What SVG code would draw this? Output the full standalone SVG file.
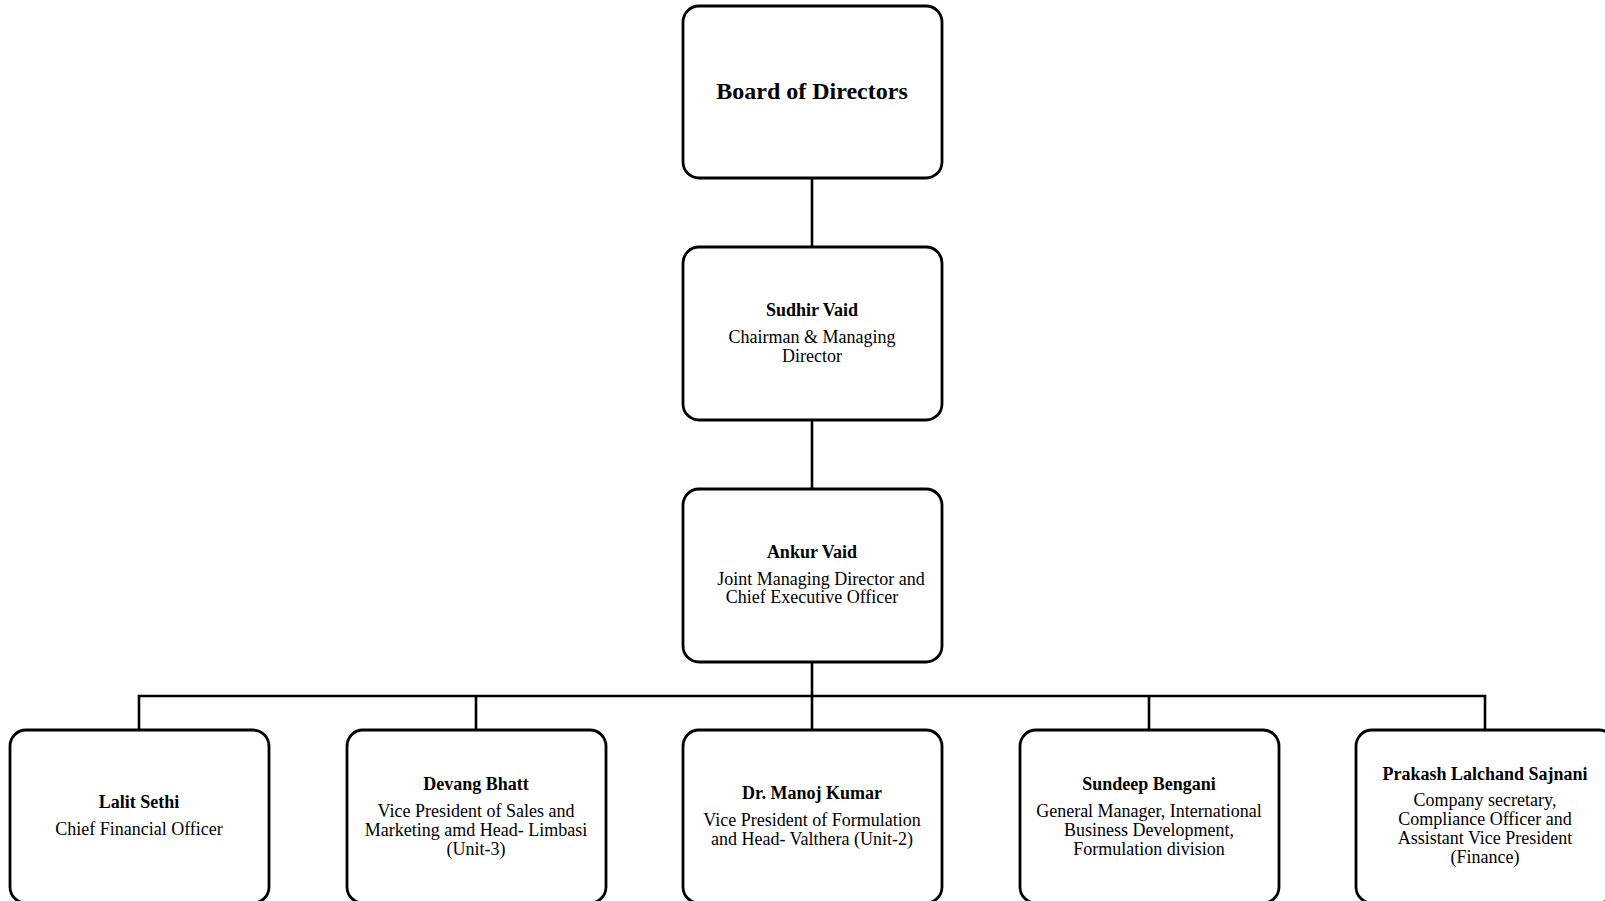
<svg xmlns="http://www.w3.org/2000/svg" width="1605" height="901" viewBox="0 0 1605 901">
<style>
.box{fill:#fff;stroke:#000;stroke-width:2.8}
.con{fill:none;stroke:#000;stroke-width:2.6}
text{font-family:"Liberation Serif","Times New Roman",serif;fill:#000;text-anchor:middle}
.t{font-size:24px;font-weight:bold}
.n{font-size:18px;font-weight:bold}
.d{font-size:18px}
</style>
<rect width="1605" height="901" fill="#fff"/>
<g id="connectors">
<line class="con" x1="812" y1="178" x2="812" y2="247"/>
<line class="con" x1="812" y1="420" x2="812" y2="488"/>
<line class="con" x1="812" y1="662" x2="812" y2="730"/>
<path class="con" d="M139 730 V696 H1485 V730"/>
<line class="con" x1="476" y1="696" x2="476" y2="730"/>
<line class="con" x1="1149" y1="696" x2="1149" y2="730"/>
</g>
<g id="board">
<rect class="box" x="683" y="6" width="259" height="172" rx="16"/>
<text class="t" x="812" y="99">Board of Directors</text>
</g>
<g id="sudhir">
<rect class="box" x="683" y="247" width="259" height="173" rx="16"/>
<text class="n" x="812" y="316">Sudhir Vaid</text>
<text class="d" x="812" y="343">Chairman &amp; Managing</text>
<text class="d" x="812" y="362">Director</text>
</g>
<g id="ankur">
<rect class="box" x="683" y="489" width="259" height="173" rx="16"/>
<text class="n" x="812" y="558">Ankur Vaid</text>
<text class="d" x="821" y="585">Joint Managing Director and</text>
<text class="d" x="812" y="603">Chief Executive Officer</text>
</g>
<g id="lalit">
<rect class="box" x="10" y="730" width="259" height="173" rx="16"/>
<text class="n" x="139" y="808">Lalit Sethi</text>
<text class="d" x="139" y="835">Chief Financial Officer</text>
</g>
<g id="devang">
<rect class="box" x="347" y="730" width="259" height="173" rx="16"/>
<text class="n" x="476" y="790">Devang Bhatt</text>
<text class="d" x="476" y="817">Vice President of Sales and</text>
<text class="d" x="476" y="836">Marketing amd Head- Limbasi</text>
<text class="d" x="476" y="855">(Unit-3)</text>
</g>
<g id="manoj">
<rect class="box" x="683" y="730" width="259" height="173" rx="16"/>
<text class="n" x="812" y="799">Dr. Manoj Kumar</text>
<text class="d" x="812" y="826">Vice President of Formulation</text>
<text class="d" x="812" y="845">and Head- Valthera (Unit-2)</text>
</g>
<g id="sundeep">
<rect class="box" x="1020" y="730" width="259" height="173" rx="16"/>
<text class="n" x="1149" y="790">Sundeep Bengani</text>
<text class="d" x="1149" y="817">General Manager, International</text>
<text class="d" x="1149" y="836">Business Development,</text>
<text class="d" x="1149" y="855">Formulation division</text>
</g>
<g id="prakash">
<rect class="box" x="1356" y="730" width="259" height="173" rx="16"/>
<text class="n" x="1485" y="780">Prakash Lalchand Sajnani</text>
<text class="d" x="1485" y="806">Company secretary,</text>
<text class="d" x="1485" y="825">Compliance Officer and</text>
<text class="d" x="1485" y="844">Assistant Vice President</text>
<text class="d" x="1485" y="863">(Finance)</text>
</g>
</svg>
